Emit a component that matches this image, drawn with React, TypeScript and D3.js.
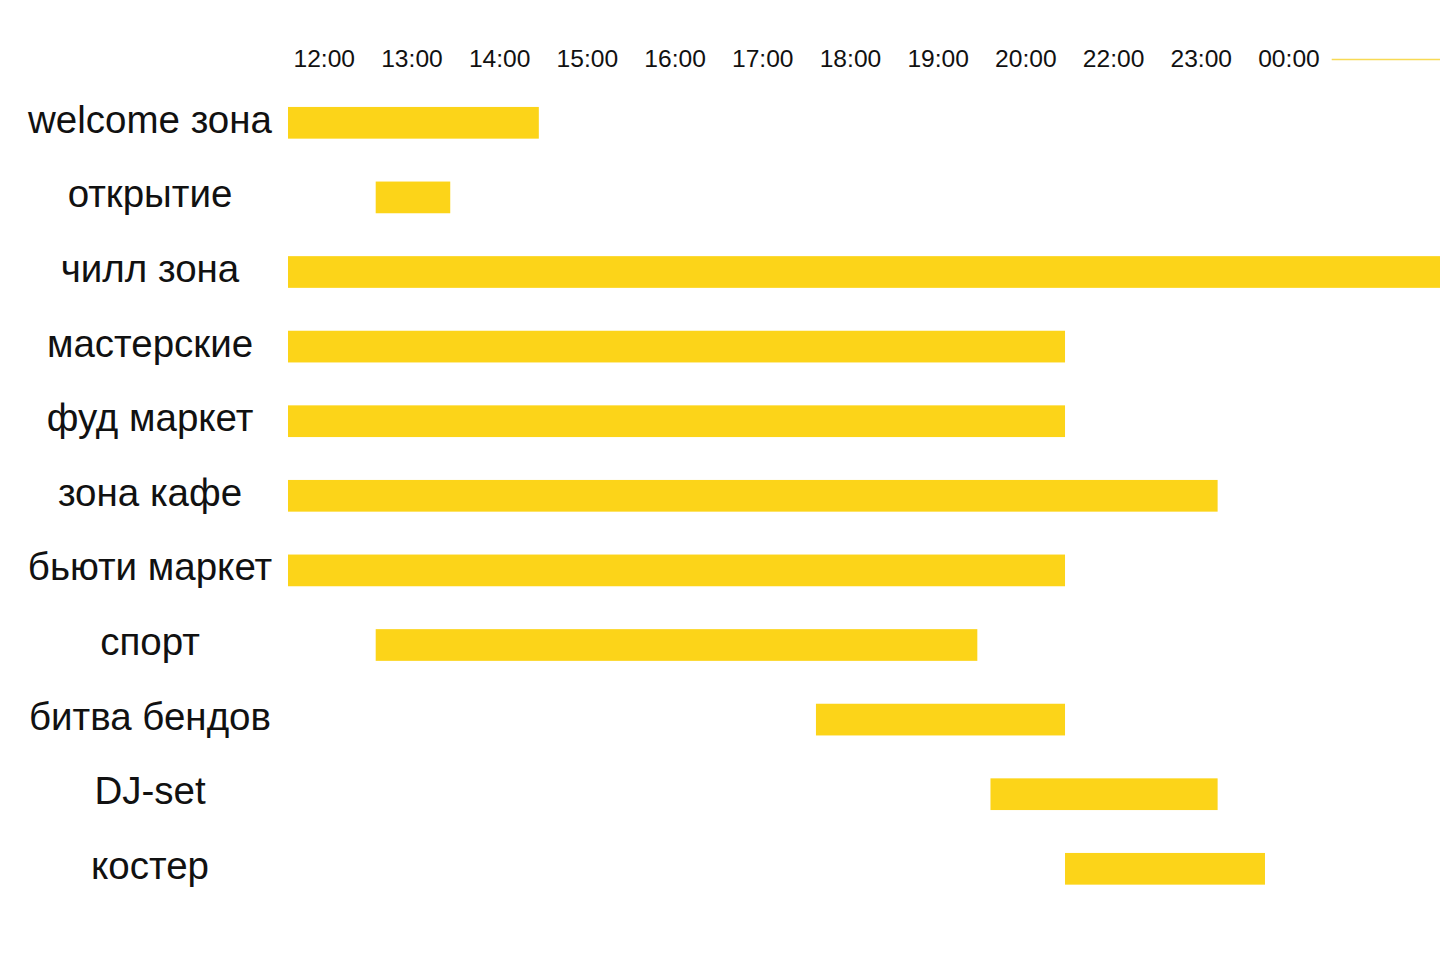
import React from "react";
import * as d3 from "d3";

const categories = [
  "welcome зона",
  "открытие",
  "чилл зона",
  "мастерские",
  "фуд маркет",
  "зона кафе",
  "бьюти маркет",
  "спорт",
  "битва бендов",
  "DJ-set",
  "костер",
];

// start / end in hours along the axis (0 = first tick "12:00")
const starts = [0, 1, 0, 0, 0, 0, 0, 1, 6.02, 8.01, 8.86];
const ends = [2.86, 1.85, 13.3, 8.86, 8.86, 10.6, 8.86, 7.86, 8.86, 10.6, 11.14];

const tickLabels = [
  "12:00", "13:00", "14:00", "15:00", "16:00", "17:00",
  "18:00", "19:00", "20:00", "22:00", "23:00", "00:00",
];

const W = 1440;
const H = 973;
const BAR_COLOR = "#FCD419";
const LINE_COLOR = "#F8DA55";
const FONT = "'Liberation Sans', Arial, Helvetica, sans-serif";

export default function App() {
  const x = d3.scaleLinear().domain([0, 1]).range([288, 375.7]);
  const y = d3
    .scaleBand<string>()
    .domain(categories)
    .range([85.5, 85.5 + 74.6 * categories.length])
    .paddingInner(0.575)
    .paddingOuter(0.2875);
  const bw = y.bandwidth();
  const lastTickX = x(tickLabels.length - 1);
  return (
    <svg
      width={W}
      height={H}
      style={{ position: "absolute", left: 0, top: 0, background: "#fff" }}
    >
      <defs>
        <clipPath id="plot">
          <rect x={0} y={0} width={W} height={H} />
        </clipPath>
      </defs>
      {tickLabels.map((t, i) => (
        <text
          key={t}
          x={x(i) + 5.5}
          y={67}
          fontFamily={FONT}
          fontSize={24.6}
          fill="#111"
        >
          {t}
        </text>
      ))}
      <line
        x1={lastTickX + 79}
        x2={W}
        y1={59.5}
        y2={59.5}
        stroke={LINE_COLOR}
        strokeWidth={1.5}
      />
      <g clipPath="url(#plot)">
        {categories.map((c, i) => (
          <rect
            key={c}
            x={x(starts[i])}
            y={y(c)}
            width={x(ends[i]) - x(starts[i])}
            height={bw}
            fill={BAR_COLOR}
          />
        ))}
      </g>
      {categories.map((c) => (
        <text
          key={c}
          x={150}
          y={(y(c) as number) + bw / 2 + 10}
          textAnchor="middle"
          fontFamily={FONT}
          fontSize={38.5}
          fill="#111"
        >
          {c}
        </text>
      ))}
    </svg>
  );
}
